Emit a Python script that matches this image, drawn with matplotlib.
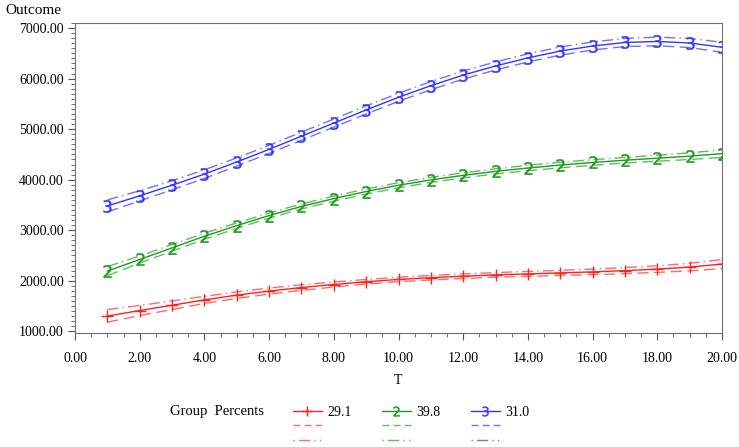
import numpy as np
import matplotlib
matplotlib.use("Agg")
import matplotlib.pyplot as plt
from matplotlib.ticker import MultipleLocator, FormatStrFormatter
from matplotlib.lines import Line2D

plt.rcParams['font.family'] = ['Liberation Serif', 'DejaVu Serif']
plt.rcParams['font.size'] = 10

# time points
T = list(range(1, 21))

# group 1 (29.1 %)
red_mean = [1300, 1410, 1515, 1620, 1715, 1795, 1865, 1925, 1980, 2025,
            2060, 2090, 2115, 2135, 2155, 2175, 2200, 2230, 2270, 2330]
red_upper = [1430, 1510, 1600, 1690, 1780, 1855, 1920, 1975, 2025, 2070,
             2105, 2135, 2160, 2185, 2205, 2230, 2260, 2295, 2345, 2420]
red_lower = [1180, 1310, 1430, 1550, 1650, 1735, 1810, 1875, 1935, 1980,
             2015, 2045, 2070, 2085, 2105, 2120, 2140, 2165, 2195, 2240]

# group 2 (39.8 %)
green_mean = [2190, 2420, 2650, 2880, 3090, 3290, 3470, 3625, 3765, 3890,
              3995, 4085, 4165, 4230, 4290, 4340, 4385, 4425, 4465, 4515]
green_upper = [2280, 2490, 2715, 2940, 3145, 3340, 3520, 3675, 3815, 3940,
               4045, 4135, 4215, 4285, 4345, 4395, 4440, 4485, 4530, 4590]
green_lower = [2100, 2350, 2585, 2820, 3035, 3240, 3420, 3575, 3715, 3840,
               3945, 4035, 4115, 4175, 4235, 4285, 4330, 4365, 4400, 4440]

# group 3 (31.0 %)
blue_mean = [3480, 3680, 3890, 4110, 4350, 4600, 4860, 5120, 5380, 5630,
             5860, 6070, 6250, 6410, 6545, 6645, 6715, 6735, 6705, 6620]
blue_upper = [3600, 3780, 3980, 4195, 4430, 4680, 4940, 5200, 5460, 5710,
              5940, 6150, 6330, 6490, 6625, 6725, 6795, 6820, 6795, 6720]
blue_lower = [3360, 3580, 3800, 4025, 4270, 4520, 4780, 5040, 5300, 5550,
              5780, 5990, 6170, 6330, 6465, 6565, 6635, 6650, 6615, 6520]

groups = ['29.1', '39.8', '31.0']
colors = ['#ff2020', '#1f9a1f', '#3535ff']
light = ['#ff6a6a', '#5cbf5c', '#7070ff']
markers = ['+', '$2$', '$3$']
msizes = [9, 9, 9]
mews = [1, 0.3, 0.3]

means = [red_mean, green_mean, blue_mean]
uppers = [red_upper, green_upper, blue_upper]
lowers = [red_lower, green_lower, blue_lower]

fig = plt.figure(figsize=(7.39, 4.47), dpi=100)
ax = fig.add_axes([0.1015, 0.255, 0.8755, 0.6935])

handles = []
labels = []
for g, c, lc, m, ms, mw, mu, up, lo in zip(groups, colors, light, markers, msizes, mews,
                                           means, uppers, lowers):
    ax.plot(T, up, color=lc, lw=1, dashes=[8, 3, 1, 3])
    ax.plot(T, lo, color=lc, lw=1, dashes=[8, 4])
    ax.plot(T, mu, color=c, lw=1, marker=m, markersize=ms, markeredgewidth=mw)
    handles += [Line2D([], [], color=c, lw=1, marker=m, markersize=7, markeredgewidth=mw,
                       markevery=[0, 1, 2]),
                Line2D([], [], color=lc, lw=1, dashes=[5, 3]),
                Line2D([], [], color=lc, lw=1, dashes=[1, 3, 8, 3, 1, 3])]
    labels += [g, '', '']

ax.set_xlim(0, 20)
ax.set_ylim(965, 7100)
ax.xaxis.set_major_locator(MultipleLocator(2))
ax.xaxis.set_minor_locator(MultipleLocator(0.5))
ax.yaxis.set_major_locator(MultipleLocator(1000))
ax.yaxis.set_minor_locator(MultipleLocator(100))
ax.xaxis.set_major_formatter(FormatStrFormatter('%.2f'))
ax.yaxis.set_major_formatter(FormatStrFormatter('%.2f'))
ax.tick_params(which='major', length=5, color='#555555', labelsize=10, pad=3)
ax.tick_params(axis='x', which='major', pad=9)
ax.tick_params(which='minor', length=3, color='#555555')
for s in ax.spines.values():
    s.set_color('#707070')

fig.text(0.007, 1 - 11 / 447, 'Outcome', ha='left', va='center', fontsize=11)
fig.text(398 / 739, 1 - 381 / 447, 'T', ha='center', va='center', fontsize=10)
fig.text(170 / 739, 1 - 411 / 447, 'Group  Percents', ha='left', va='center', fontsize=10.5)

leg = fig.legend(handles, labels, ncol=3, frameon=False, loc='upper left',
                 bbox_to_anchor=(283 / 739, 1 - 396 / 447), handlelength=2.1,
                 handletextpad=0.36, columnspacing=2.2, labelspacing=0.1,
                 borderpad=0.2, fontsize=10)

fig.savefig('out.png', dpi=100)
